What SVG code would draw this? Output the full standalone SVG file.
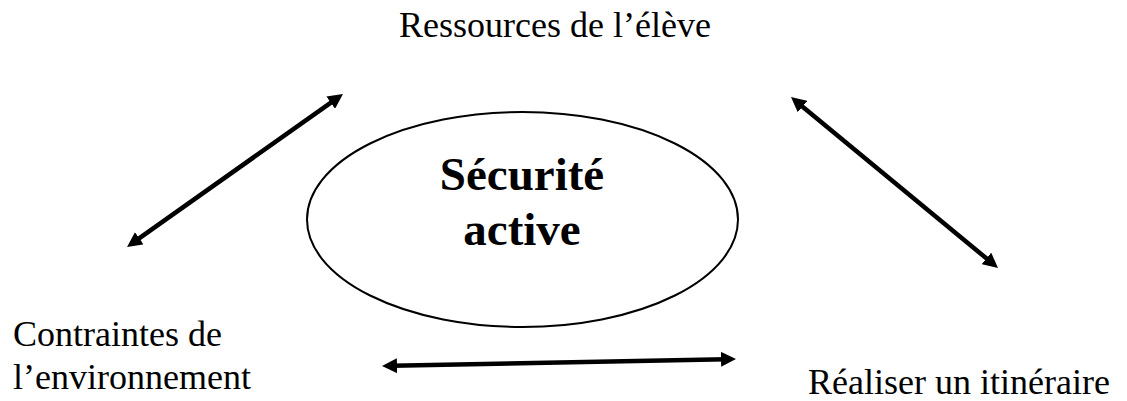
<svg xmlns="http://www.w3.org/2000/svg" width="1127" height="401" viewBox="0 0 1127 401">
  <style>
    .lbl { font-family: "Liberation Serif", "Times New Roman", serif; font-size: 36px; fill: #000; }
    .title { font-family: "Liberation Serif", "Times New Roman", serif; font-size: 47px; font-weight: bold; fill: #000; text-anchor: middle; }
    .conn { stroke: #000; stroke-width: 4.5; fill: none; }
  </style>
  <defs>
    <marker id="ah" markerUnits="userSpaceOnUse" markerWidth="15" markerHeight="15" refX="5" refY="7.5" orient="auto-start-reverse">
      <path d="M0,0 L15,7.5 L0,15 z" fill="#000"/>
    </marker>
  </defs>
  <rect width="1127" height="401" fill="#fff"/>
  <g id="center">
    <ellipse cx="522.5" cy="219.5" rx="215.5" ry="107.5" fill="none" stroke="#000" stroke-width="2"/>
    <text class="title" x="522" y="190">Sécurité</text>
    <text class="title" x="522" y="245">active</text>
  </g>
  <g id="ressources">
    <text class="lbl" x="399" y="37">Ressources de l’élève</text>
  </g>
  <g id="contraintes">
    <text class="lbl" x="13" y="346">Contraintes de</text>
    <text class="lbl" x="13" y="389">l’environnement</text>
  </g>
  <g id="itineraire">
    <text class="lbl" x="808" y="394">Réaliser un itinéraire</text>
  </g>
  <g id="connectors">
    <line class="conn" x1="135.2" y1="241.2" x2="334.8" y2="99.8" marker-start="url(#ah)" marker-end="url(#ah)"/>
    <line class="conn" x1="798.7" y1="103.4" x2="990.3" y2="261.6" marker-start="url(#ah)" marker-end="url(#ah)"/>
    <line class="conn" x1="392" y1="365.8" x2="726" y2="359.2" marker-start="url(#ah)" marker-end="url(#ah)"/>
  </g>
</svg>
